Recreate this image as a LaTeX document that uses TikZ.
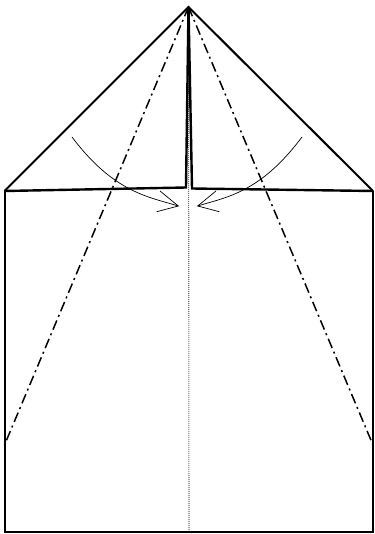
\documentclass[tikz,border=0pt]{standalone}
\usepackage{tikz}
\tikzset{
  edgeline/.style={
    line width=2pt, line join=miter, line cap=butt
  },
  foldline/.style={
    line width=2.4pt, line join=miter
  },
  valleyline/.style={
    line width=1.5pt,
    dash pattern=on 10pt off 4pt on 2pt off 4pt
  },
  centerline/.style={
    line width=1.1pt, black!55, dash pattern=on 1pt off 1pt
  },
  foldarrow/.style={
    line width=0.7pt, line join=miter
  },
}

\begin{document}
\begin{tikzpicture}[x=1pt,y=-1pt]
\useasboundingbox (0,0) rectangle (374,534);

%% ── Corner points ────────────────────────────────────────────────────────
\coordinate (apex)   at (188.5,7);
\coordinate (lcorner) at (4.5,191);
\coordinate (rcorner) at (373,191);
\coordinate (linner)  at (186,187.5);
\coordinate (rinner)  at (192,188.5);
\coordinate (lbottom) at (4.5,531.5);
\coordinate (rbottom) at (373,531.5);
\coordinate (cbottom) at (189,531.5);
\coordinate (ldash)   at (4.5,445);
\coordinate (rdash)   at (373,445);

%% ── Centre crease ────────────────────────────────────────────────────────
\draw[centerline] (apex) -- (cbottom);

%% ── Valley folds (dash-dot) ─────────────────────────────────────────────
\draw[valleyline] (apex) -- (ldash);
\draw[valleyline] (apex) -- (rdash);

%% ── Paper outline ────────────────────────────────────────────────────────
\draw[edgeline] (lcorner) -- (apex) -- (rcorner);
\draw[edgeline] (lcorner) -- (lbottom) -- (rbottom) -- (rcorner);

%% ── Folded flaps ─────────────────────────────────────────────────────────
\draw[foldline] (lcorner) -- (linner) -- (apex);
\draw[foldline] (rcorner) -- (rinner) -- (apex);

%% ── Fold arrows (open barbs) ─────────────────────────────────────────────
\coordinate (larrs) at (72,137);
\coordinate (larre) at (178.3,206);
\coordinate (lbarba) at (160,191);
\coordinate (lbarbb) at (156.7,211.7);
\coordinate (rarrs) at (302,137);
\coordinate (rarre) at (197.7,206);
\coordinate (rbarba) at (216,191);
\coordinate (rbarbb) at (219.3,211.7);
\draw[foldarrow] (larrs) .. controls (114,193) and (149.5,197) .. (larre);
\draw[foldarrow] (lbarba) -- (larre) -- (lbarbb);
\draw[foldarrow] (rarrs) .. controls (260,193) and (226.5,197) .. (rarre);
\draw[foldarrow] (rbarba) -- (rarre) -- (rbarbb);

\end{tikzpicture}
\end{document}
